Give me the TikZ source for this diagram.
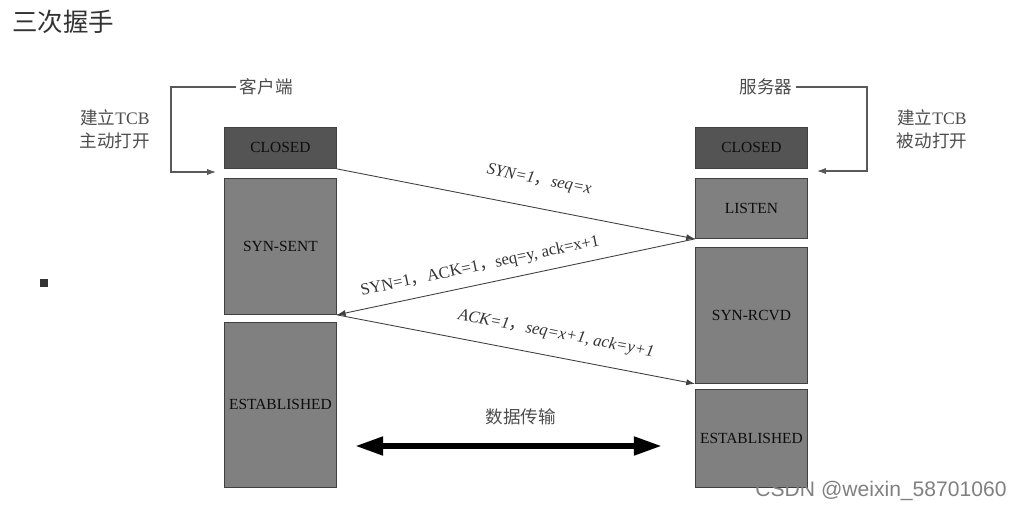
\documentclass[tikz,border=0pt]{standalone}
\usepackage{fontspec}
\setmainfont{Liberation Serif}
\newfontfamily\cjk{Noto Sans CJK SC}
\newfontfamily\wmfont{Liberation Sans}
\usetikzlibrary{arrows.meta}

\begin{document}
\begin{tikzpicture}[x=0.02cm,y=-0.02cm]
\tikzstyle{st}=[rectangle, anchor=north west, minimum width=2.24cm, inner sep=0pt, draw=black!75, line width=0.5pt, fill=black!50, text=black!95, font=\fontsize{8.8}{10}\selectfont]
\tikzstyle{stc}=[st, fill=black!67]
\tikzstyle{txt}=[align=center, inner sep=2pt, text=black!70, font=\cjk\fontsize{10}{13}\selectfont]
\tikzstyle{msg}=[-{Latex[length=5pt,width=3.5pt]}, draw=black!75, line width=0.5pt]
\tikzstyle{msgr}=[{Latex[length=5pt,width=3.5pt]}-, draw=black!75, line width=0.5pt]
\tikzstyle{lbl}=[sloped, text=black!80, font=\fontsize{9.5}{11}\selectfont]
\tikzstyle{lbli}=[lbl, font=\fontsize{9.5}{11}\selectfont\itshape]
\tikzstyle{brk}=[-{Latex[length=5pt,width=3.5pt]}, draw=black!65, line width=0.6pt]
\useasboundingbox (0,0) rectangle (1019,511);
% title
\node (title) [anchor=west, inner sep=0pt, text=black!80, font=\cjk\fontsize{14.5}{16}\selectfont] at (12,22) {三次握手};
\node (dot) [fill=black!80, minimum size=0.16cm, inner sep=0pt] at (44,283) {};
% client side
\node (c0) [stc, minimum height=0.82cm] at (224,127) {CLOSED};
\node (c1) [st, minimum height=2.72cm] at (224,178) {SYN-SENT};
\node (c2) [st, minimum height=3.3cm] at (224,322) {ESTABLISHED};
\node (cli) [txt, anchor=west] at (236,87) {客户端};
\node (ctcb) [txt] at (115,129) {建立{\rmfamily TCB}\\主动打开};
\coordinate (cbend) at (171,172);
\coordinate (ctip) at (216,172);
\draw[brk] (cli.west) -| (cbend) -- (ctip);
% server side
\node (s0) [stc, minimum height=0.82cm] at (695,127) {CLOSED};
\node (s1) [st, minimum height=1.2cm] at (695,178) {LISTEN};
\node (s2) [st, minimum height=2.72cm] at (695,247) {SYN-RCVD};
\node (s3) [st, minimum height=1.96cm] at (695,389) {ESTABLISHED};
\node (srv) [txt] at (766,87) {服务器};
\node (stcb) [txt] at (932,129) {建立{\rmfamily TCB}\\被动打开};
\coordinate (sbend) at (867,171);
\coordinate (stip) at (817,171);
\draw[brk] (srv.east) -| (sbend) -- (stip);
% handshake
\draw[msg] (c0.south east) -- node[lbli, pos=0.55, above=8pt] {SYN=1{\cjk ，}seq=x} (s1.south west);
\draw[msgr] (c1.south east) -- node[lbl, pos=0.41, above=2pt] {SYN=1{\cjk ，}ACK=1{\cjk ，}seq=y, ack=x+1} (s1.south west);
\draw[msg] (c1.south east) -- node[lbli, pos=0.6, above=5pt] {ACK=1{\cjk ，}seq=x+1, ack=y+1} (s2.south west);
% data
\coordinate (dl) at (355,446);
\coordinate (dr) at (662,446);
\draw[{Triangle[length=16pt,width=10pt]}-{Triangle[length=16pt,width=10pt]}, line width=3.4pt] (dl) -- node[txt, pos=0.54, above=8pt] {数据传输} (dr);
\node (wm) [text=black!50, font=\wmfont\fontsize{12}{14}\selectfont] at (881,491) {CSDN @weixin\_58701060};
\end{tikzpicture}
\end{document}
